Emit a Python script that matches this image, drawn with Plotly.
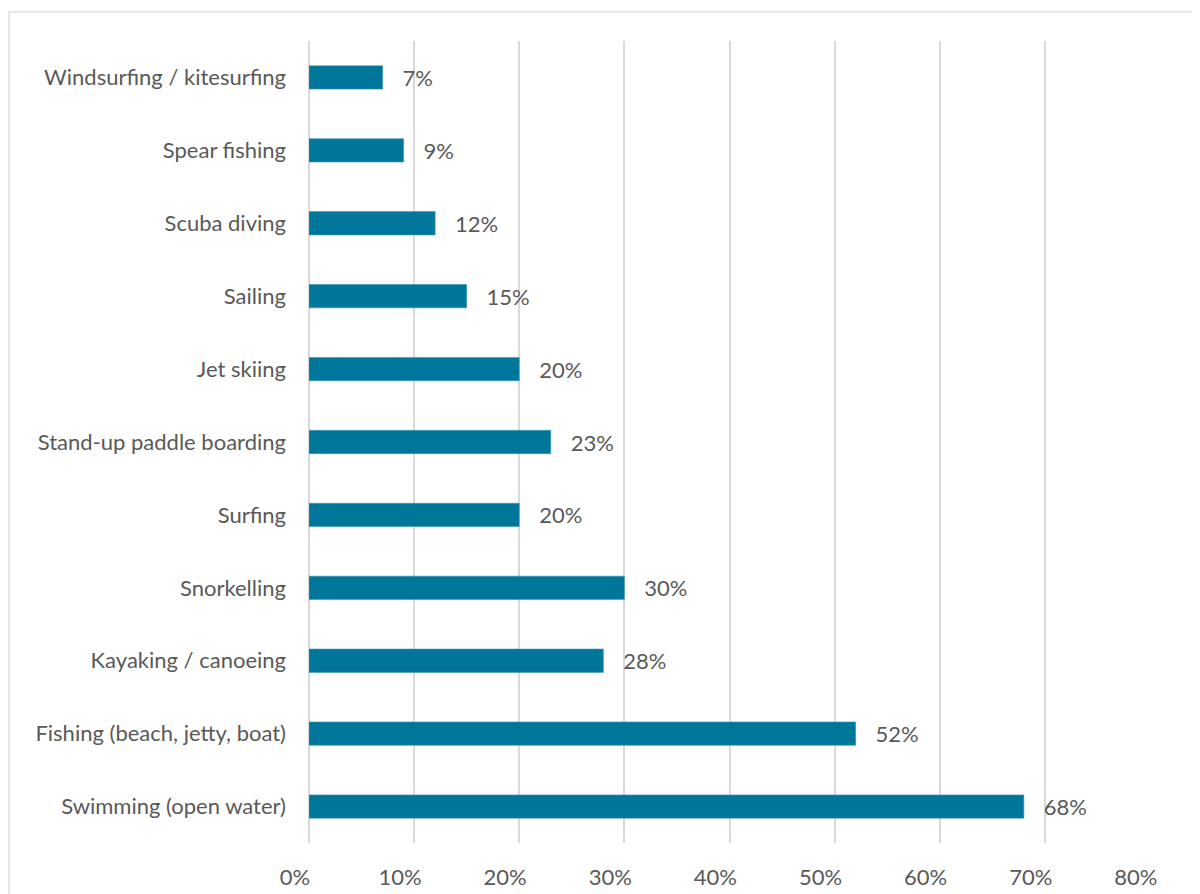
import plotly.graph_objects as go

activities = [
    "Swimming (open water)",
    "Fishing (beach, jetty, boat)",
    "Kayaking / canoeing",
    "Snorkelling",
    "Surfing",
    "Stand-up paddle boarding",
    "Jet skiing",
    "Sailing",
    "Scuba diving",
    "Spear fishing",
    "Windsurfing / kitesurfing",
]
shares = [0.68, 0.52, 0.28, 0.30, 0.20, 0.23, 0.20, 0.15, 0.12, 0.09, 0.07]
labels = ["68%", "52%", "28%", "30%", "20%", "23%", "20%", "15%", "12%", "9%", "7%"]
x_ticks = [0, 0.1, 0.2, 0.3, 0.4, 0.5, 0.6, 0.7, 0.8]
x_tick_text = ["0%", "10%", "20%", "30%", "40%", "50%", "60%", "70%", "80%"]

FONT = "Lato"
SIZE = 22
GREY = "#595959"
NB = "\u00a0"

fig = go.Figure(go.Bar(
    x=shares,
    y=activities,
    orientation="h",
    width=0.32,
    marker=dict(color="#00779a", line=dict(color="#3a97b3", width=0.6)),
    text=[NB * 3 + t for t in labels],
    textposition="outside",
    constraintext="none",
    textfont=dict(family=FONT, size=SIZE, color=GREY),
    cliponaxis=False,
    hoverinfo="skip",
))

fig.update_layout(
    width=1200,
    height=894,
    margin=dict(l=301, r=58, t=33, b=59),
    paper_bgcolor="white",
    plot_bgcolor="white",
    showlegend=False,
    font=dict(family=FONT, size=SIZE, color=GREY),
    xaxis=dict(
        range=[0, 0.8],
        tickvals=x_ticks,
        ticktext=[t + NB * 5 for t in x_tick_text],
        showgrid=True,
        gridcolor="#d9d9d9",
        gridwidth=1.5,
        zeroline=True,
        zerolinecolor="#d9d9d9",
        zerolinewidth=1.5,
        showline=False,
        ticks="",
        ticklabelstandoff=19,
        tickfont=dict(family=FONT, size=SIZE, color=GREY),
    ),
    yaxis=dict(
        showgrid=False,
        zeroline=False,
        showline=False,
        ticks="",
        ticklabelstandoff=22,
        tickfont=dict(family=FONT, size=SIZE, color=GREY),
    ),
    shapes=[dict(
        type="rect", xref="paper", yref="paper",
        x0=-0.3567, x1=1.2, y0=-0.2, y1=1.0362,
        line=dict(color="#d9d9d9", width=1.2),
        fillcolor="rgba(0,0,0,0)", layer="below",
    )],
)

fig.write_html("out.html")
